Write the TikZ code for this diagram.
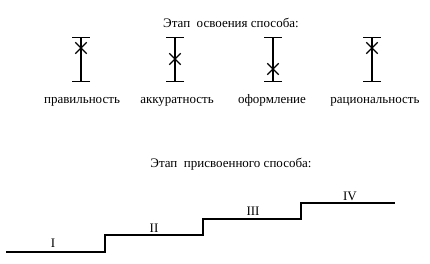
\documentclass[tikz,border=0pt]{standalone}
\usepackage{fontspec}
\setmainfont{Liberation Serif}
\usetikzlibrary{shapes.misc, arrows.meta, positioning}

\begin{document}
\begin{tikzpicture}[x=1pt, y=-1pt,
            lbl/.style={font=\fontsize{13}{15}\selectfont, inner sep=0pt},
            bar/.style={line width=1.2pt, {Bar[width=18pt]}-{Bar[width=18pt]}},
            crs/.style={cross out, draw, line width=1.3pt, minimum size=10pt, inner sep=0pt}]
            \useasboundingbox (0,0) rectangle (430,264);
            % stage of learning the method
            \node[lbl] (title1) at (231,23) {Этап\ \ освоения способа:};
            \foreach \i/\x/\c/\lx/\t in {1/81/48/82/правильность,2/175/59/177/аккуратность,
                                     3/273/69/272/оформление,4/372/48/375/рациональность}{
                \coordinate (top\i) at (\x,37);
                \coordinate (bot\i) at (\x,82);
                \draw[bar] (top\i) -- (bot\i);
                \node[crs] (x\i) at (\x,\c) {};
                \node[lbl, anchor=base] (l\i) at (\lx,103.5) {\t};}
            % stage of the acquired method
            \node[lbl] (title2) at (231,164) {Этап\ \ присвоенного способа:};
            \foreach \i/\x/\y in {0/6/252,1/105/252,2/105/235,3/203/235,
                                  4/203/219,5/301/219,6/301/203,7/395/203}{
                \coordinate (s\i) at (\x,\y);}
            \draw[line width=1.2pt] (s0) -- (s1) -- (s2) -- (s3) -- (s4) -- (s5) -- (s6) -- (s7);
            \foreach \i/\x/\y/\t in {1/53/243/I,2/154/228/II,3/253/211/III,4/350/196/IV}{
                \node[lbl] (st\i) at (\x,\y) {\t};}
        \end{tikzpicture}
\end{document}
